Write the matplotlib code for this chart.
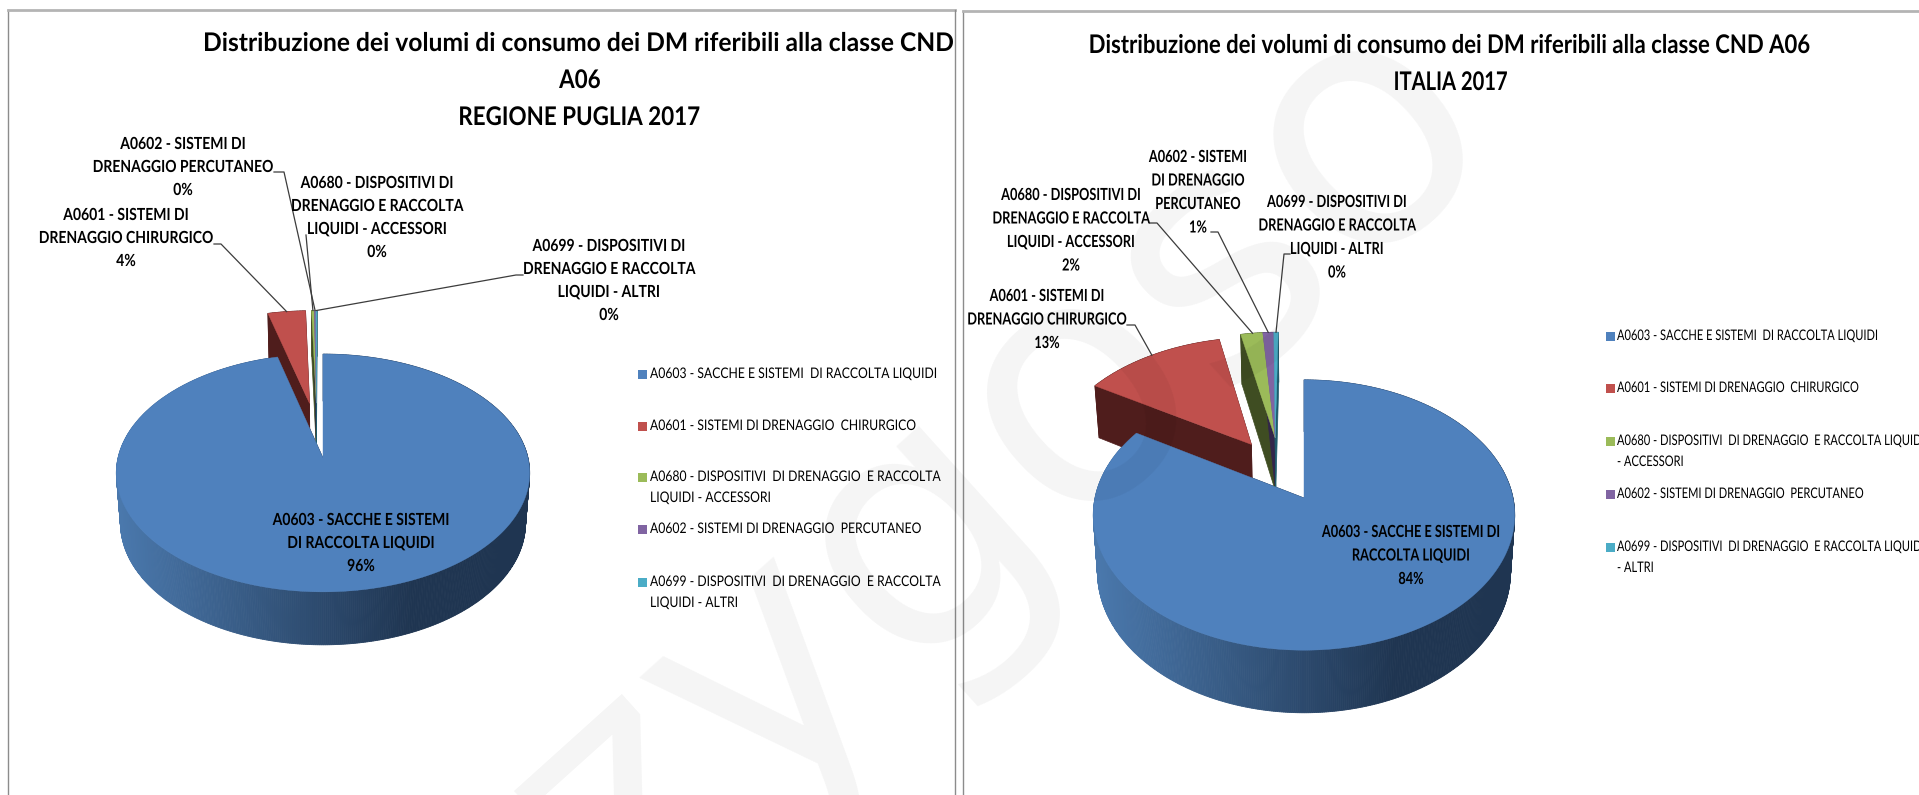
import numpy as np
import matplotlib
matplotlib.use('Agg')
import matplotlib.pyplot as plt
from matplotlib.colors import LinearSegmentedColormap
from matplotlib.font_manager import FontProperties
from matplotlib.patheffects import AbstractPathEffect
from matplotlib.textpath import TextPath
from matplotlib.transforms import Affine2D

# slice order as in the legend
codes = ['A0603', 'A0601', 'A0680', 'A0602', 'A0699']
values_puglia = [96.0, 3.5, 0.25, 0.15, 0.10]
values_italia = [83.7, 12.9, 2.0, 1.0, 0.4]

title_puglia = ['Distribuzione dei volumi di consumo dei DM riferibili alla classe CND', 'A06', 'REGIONE PUGLIA 2017']
title_italia = ['Distribuzione dei volumi di consumo dei DM riferibili alla classe CND A06', 'ITALIA 2017']

labels_puglia = [['A0603 - SACCHE E SISTEMI', 'DI RACCOLTA LIQUIDI'],
                 ['A0601 - SISTEMI DI', 'DRENAGGIO CHIRURGICO'],
                 ['A0680 - DISPOSITIVI DI', 'DRENAGGIO E RACCOLTA', 'LIQUIDI - ACCESSORI'],
                 ['A0602 - SISTEMI DI', 'DRENAGGIO PERCUTANEO'],
                 ['A0699 - DISPOSITIVI DI', 'DRENAGGIO E RACCOLTA', 'LIQUIDI - ALTRI']]
labels_italia = [['A0603 - SACCHE E SISTEMI DI', 'RACCOLTA LIQUIDI'],
                 ['A0601 - SISTEMI DI', 'DRENAGGIO CHIRURGICO'],
                 ['A0680 - DISPOSITIVI DI', 'DRENAGGIO E RACCOLTA', 'LIQUIDI - ACCESSORI'],
                 ['A0602 - SISTEMI', 'DI DRENAGGIO', 'PERCUTANEO'],
                 ['A0699 - DISPOSITIVI DI', 'DRENAGGIO E RACCOLTA', 'LIQUIDI - ALTRI']]

legend_puglia = [['A0603 - SACCHE E SISTEMI  DI RACCOLTA LIQUIDI'],
                 ['A0601 - SISTEMI DI DRENAGGIO  CHIRURGICO'],
                 ['A0680 - DISPOSITIVI  DI DRENAGGIO  E RACCOLTA', 'LIQUIDI - ACCESSORI'],
                 ['A0602 - SISTEMI DI DRENAGGIO  PERCUTANEO'],
                 ['A0699 - DISPOSITIVI  DI DRENAGGIO  E RACCOLTA', 'LIQUIDI - ALTRI']]
legend_italia = [['A0603 - SACCHE E SISTEMI  DI RACCOLTA LIQUIDI'],
                 ['A0601 - SISTEMI DI DRENAGGIO  CHIRURGICO'],
                 ['A0680 - DISPOSITIVI  DI DRENAGGIO  E RACCOLTA LIQUIDI', '- ACCESSORI'],
                 ['A0602 - SISTEMI DI DRENAGGIO  PERCUTANEO'],
                 ['A0699 - DISPOSITIVI  DI DRENAGGIO  E RACCOLTA LIQUIDI', '- ALTRI']]

top_colors = ['#4F81BD', '#C0504D', '#9BBB59', '#8064A2', '#4BACC6']
dark_colors = ['#1F3552', '#4F1D1C', '#3F4D22', '#32254A', '#1F5A6B']
side_blue = LinearSegmentedColormap.from_list('side', [(0, '#4A78AC'), (0.72, '#1F3551'), (1, '#1F3551')])

FONT = 'Lato'

# perspective settings of each pie, in pixels of the 1919x795 picture
puglia = dict(cx=323, cy=458, A=205, B=117, k=0.126, a=1.025, b=-49.6, s=0.98,
              explode=[0, .5, .5, .5, .5], direction=[0, 8, 4, 4, 4])
italia = dict(cx=1304, cy=498, A=209, B=133, k=0.126, a=1.04, b=-56.5, s=0.98,
              explode=[0, .5, .5, .5, .5], direction=[0, 32, 17, 17, 17])


class Condense(AbstractPathEffect):
    # the text in the picture is squeezed sideways, no installed font is that narrow
    def __init__(self, sx, ha):
        super().__init__()
        self.sx = sx
        self.ha = ha

    def draw_path(self, renderer, gc, tpath, affine, rgbFace=None):
        pivot = 0
        if self.ha == 'center' and len(tpath.vertices):
            pivot = (tpath.vertices[:, 0].min() + tpath.vertices[:, 0].max()) / 2
        squeeze = Affine2D().translate(-pivot, 0).scale(self.sx, 1).translate(pivot, 0)
        renderer.draw_path(gc, tpath, squeeze + affine, rgbFace)


def fit(sample, size, weight, target_px):
    prop = FontProperties(family=FONT, weight=weight)
    width = TextPath((0, 0), sample, size=size, prop=prop).get_extents().width * 100 / 72
    return target_px / width


def project(X, Y, p):
    w = 1 + p['k'] * Y
    return p['cx'] + p['A'] * X / w, p['cy'] - p['B'] * Y / w


def lower(x, y, p):
    # the same point on the bottom face of the disc
    return p['cx'] + (x - p['cx']) * p['s'], p['cy'] - ((p['cy'] - y) * p['a'] + p['b'])


def slice_outline(t0, t1, i, p):
    t = np.radians(np.linspace(t0, t1, max(int(abs(t1 - t0) * 2), 3)))
    off = np.radians(p['direction'][i])
    X0 = -p['explode'][i] * np.sin(off)
    Y0 = p['explode'][i] * np.cos(off)
    tip_x, tip_y = project(X0, Y0, p)
    arc_x, arc_y = project(X0 + np.sin(t), Y0 + np.cos(t), p)
    return tip_x, tip_y, arc_x, arc_y


def draw_pie(ax, values, p):
    # main slice runs clockwise from 12 o'clock, the others come after it
    starts = np.r_[0, np.cumsum(values)[:-1]] / np.sum(values) * 360
    ends = np.cumsum(values) / np.sum(values) * 360
    anchors = {}
    for i in [1, 2, 3, 4, 0]:
        tip_x, tip_y, arc_x, arc_y = slice_outline(starts[i], ends[i], i, p)
        low_x, low_y = lower(arc_x, arc_y, p)
        low_tx, low_ty = lower(tip_x, tip_y, p)
        # outer wall
        for j in range(len(arc_x) - 1):
            qx = [arc_x[j], arc_x[j + 1], low_x[j + 1], low_x[j]]
            qy = [arc_y[j], arc_y[j + 1], low_y[j + 1], low_y[j]]
            if i == 0:
                u = (arc_x[j] - (p['cx'] - p['A'])) / (2 * p['A'])
                c = side_blue(np.clip(u, 0, 1))
            else:
                c = dark_colors[i]
            ax.fill(qx, qy, color=c, lw=0.6, zorder=2 + (i > 0))
        # cut faces
        for e in [0, -1]:
            ax.fill([tip_x, arc_x[e], low_x[e], low_tx], [tip_y, arc_y[e], low_y[e], low_ty],
                    color=dark_colors[i], lw=0.5, zorder=3 if i else 2)
        ax.fill(np.r_[tip_x, arc_x], np.r_[tip_y, arc_y], color=top_colors[i], lw=0.3, zorder=4 if i else 6)
        mid = len(arc_x) // 2
        anchors[i] = (arc_x[mid], arc_y[mid])
    return anchors


def multiline(ax, x, y_lines, lines, size, sx, weight='normal', ha='center'):
    for y, s in zip(y_lines, lines):
        ax.text(x, y, s, ha=ha, va='center', fontsize=size, fontweight=weight, family=FONT, color='black',
                zorder=8, path_effects=[Condense(sx, ha)])


def draw_labels(ax, values, labels, spots, sx, size=12):
    for i, (x, y, step) in spots.items():
        lines = labels[i] + [f'{round(values[i])}%']
        multiline(ax, x, [y + n * step for n in range(len(lines))], lines, size, sx, 'bold')


def draw_legend(ax, legend, x_box, x_text, rows, sx, size=10.5):
    for i, ys in enumerate(rows):
        ax.fill_between([x_box, x_box + 9], ys[0] - 4.5, ys[0] + 4.5, color=top_colors[i], lw=0, zorder=8)
        multiline(ax, x_text, ys, legend[i], size, sx, ha='left')


def leader(ax, x0, y0, x1, y1, anchor):
    ax.plot([x0, x1, anchor[0]], [y0, y1, anchor[1]], color='#3c3c3c', lw=0.9, zorder=7)


fig = plt.figure(figsize=(19.19, 7.95), dpi=100)
ax = fig.add_axes([0, 0, 1, 1])
ax.set_xlim(0, 1919)
ax.set_ylim(795, 0)
ax.axis('off')

# panel frames
ax.plot([8, 8], [795, 10], color='#8c8c8c', lw=1, zorder=1)
ax.plot([8, 955], [10, 10], color='#b4b4b4', lw=2, zorder=1)
ax.plot([955, 955], [10, 795], color='#8c8c8c', lw=1, zorder=1)
ax.plot([963, 963], [795, 11], color='#8c8c8c', lw=1, zorder=1)
ax.plot([963, 1919], [11, 11], color='#b4b4b4', lw=2, zorder=1)

# titles, the capitals lines are squeezed a bit more
sx_title_p = fit(title_puglia[0], 18.5, 'bold', 748)
sx_title_i = fit(title_italia[0], 18.5, 'bold', 719)
multiline(ax, 580, [43], title_puglia[:1], 18.5, sx_title_p, 'bold')
multiline(ax, 580, [80, 117], title_puglia[1:], 18.5, sx_title_p * 0.91, 'bold')
multiline(ax, 1451, [45], title_italia[:1], 18.5, sx_title_i, 'bold')
multiline(ax, 1451, [82], title_italia[1:], 18.5, sx_title_i * 0.91, 'bold')

# pies
spots_p = draw_pie(ax, values_puglia, puglia)
spots_i = draw_pie(ax, values_italia, italia)

sx_p = fit('DRENAGGIO PERCUTANEO', 12, 'bold', 179)
sx_i = fit('DRENAGGIO CHIRURGICO', 12, 'bold', 158)
draw_labels(ax, values_puglia, labels_puglia, {0: (361, 520, 23), 1: (126, 215, 23), 2: (377, 183, 23),
                                                3: (183, 144, 23), 4: (609, 246, 23)}, sx_p)
draw_labels(ax, values_italia, labels_italia, {0: (1411, 532, 23.5), 1: (1047, 296, 23.5), 2: (1071, 195, 23.5),
                                                3: (1198, 157, 23.5), 4: (1337, 202, 23.5)}, sx_i)

leader(ax, 214, 244, 221, 244, spots_p[1])
leader(ax, 274, 172, 284, 172, spots_p[3])
leader(ax, 306, 235, 306, 235, spots_p[2])
leader(ax, 523, 275, 516, 275, spots_p[4])
leader(ax, 1127, 325, 1135, 325, spots_i[1])
leader(ax, 1150, 223, 1157, 223, spots_i[2])
leader(ax, 1211, 232, 1218, 232, spots_i[3])
leader(ax, 1290, 254, 1284, 254, spots_i[4])

# legends
draw_legend(ax, legend_puglia, 638, 650, [[374], [426], [477, 498], [529], [582, 603]],
            fit(legend_puglia[0][0], 10.5, 'normal', 286))
draw_legend(ax, legend_italia, 1606, 1617, [[336], [388], [441, 462], [494], [547, 568]],
            fit(legend_italia[0][0], 10.5, 'normal', 260))

# watermark over everything
ax.text(1000, 464, 'zygoso', rotation=42, rotation_mode='anchor', fontsize=245, color='black', alpha=0.045,
        ha='center', va='center', family='DejaVu Sans', zorder=20, clip_on=True)

fig.savefig('out.png', dpi=100)
